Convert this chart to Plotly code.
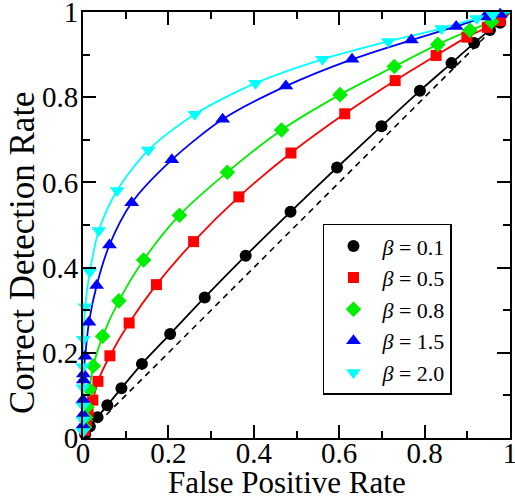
import plotly.graph_objects as go

# ---- data ----
labels = ["0.1", "0.5", "0.8", "1.5", "2.0"]
colors = ["#000000", "#ff0000", "#00ee00", "#0000ff", "#00ffff"]
symbols = ["circle", "square", "diamond", "triangle-up", "triangle-down"]
msizes = [12, 11, 12, 13, 13]

fpr_b01 = [0.0, 0.005, 0.016, 0.034, 0.057, 0.090, 0.138, 0.204, 0.285, 0.381, 0.486, 0.595, 0.699, 0.789, 0.863, 0.916, 0.953, 0.977, 1.0]
tpr_b01 = [0.0, 0.009, 0.027, 0.049, 0.077, 0.117, 0.174, 0.244, 0.330, 0.428, 0.531, 0.635, 0.732, 0.815, 0.880, 0.927, 0.958, 0.975, 1.0]

fpr_b05 = [0.0, 0.004, 0.008, 0.012, 0.023, 0.035, 0.063, 0.108, 0.172, 0.259, 0.365, 0.487, 0.613, 0.731, 0.827, 0.899, 0.947, 0.977, 1.0]
tpr_b05 = [0.0, 0.018, 0.036, 0.058, 0.089, 0.133, 0.193, 0.270, 0.360, 0.461, 0.566, 0.669, 0.761, 0.839, 0.898, 0.941, 0.964, 0.980, 1.0]

fpr_b08 = [0.0, 0.003, 0.006, 0.009, 0.015, 0.024, 0.046, 0.084, 0.142, 0.226, 0.338, 0.465, 0.602, 0.729, 0.831, 0.906, 0.957, 1.0]
tpr_b08 = [0.0, 0.025, 0.048, 0.073, 0.114, 0.169, 0.239, 0.322, 0.418, 0.523, 0.624, 0.723, 0.806, 0.872, 0.924, 0.957, 0.977, 1.0]

fpr_b15 = [0.0, 0.0, 0.0, 0.0, 0.001, 0.001, 0.005, 0.014, 0.032, 0.062, 0.114, 0.208, 0.327, 0.475, 0.630, 0.769, 0.874, 0.941, 0.977, 1.0]
tpr_b15 = [0.0, 0.030, 0.055, 0.090, 0.136, 0.150, 0.192, 0.272, 0.358, 0.453, 0.552, 0.653, 0.748, 0.826, 0.889, 0.934, 0.966, 0.988, 0.995, 1.0]

fpr_b20 = [0.0, 0.0, 0.0, 0.0, 0.0, 0.0, 0.001, 0.005, 0.016, 0.037, 0.080, 0.153, 0.262, 0.404, 0.561, 0.715, 0.840, 0.922, 0.960, 1.0]
tpr_b20 = [0.0, 0.015, 0.042, 0.075, 0.118, 0.167, 0.232, 0.308, 0.390, 0.487, 0.581, 0.676, 0.760, 0.833, 0.889, 0.931, 0.961, 0.985, 0.993, 1.0]

diag_x = [0.0, 1.0]
diag_y = [0.0, 1.0]

x_ticks = [0, 0.2, 0.4, 0.6, 0.8, 1]
x_ticklabels = ["0", "0.2", "0.4", "0.6", "0.8", "1"]
y_ticks = [0, 0.2, 0.4, 0.6, 0.8, 1]
y_ticklabels = ["0", "0.2", "0.4", "0.6", "0.8", "1"]

x_title = "False Positive Rate"
y_title = "Correct Detection Rate"

series = [(fpr_b01, tpr_b01), (fpr_b05, tpr_b05), (fpr_b08, tpr_b08),
          (fpr_b15, tpr_b15), (fpr_b20, tpr_b20)]

FONT = "Times New Roman, Liberation Serif, serif"

fig = go.Figure()

fig.add_trace(go.Scatter(x=diag_x, y=diag_y, mode="lines",
                         line=dict(color="black", width=1.6, dash="6px,5px"),
                         showlegend=False, hoverinfo="skip"))

for (xs, ys), c in zip(series, colors):
    fig.add_trace(go.Scatter(x=xs, y=ys, mode="lines",
                             line=dict(color=c, width=1.8, shape="spline", smoothing=0.8),
                             showlegend=False, cliponaxis=False))

for (xs, ys), c, s, ms, lab in zip(series, colors, symbols, msizes, labels):
    fig.add_trace(go.Scatter(x=xs[1:-1], y=ys[1:-1], mode="markers",
                             marker=dict(color=c, symbol=s, size=ms, line=dict(width=0)),
                             name="<i>β</i> = " + lab, cliponaxis=False))

axis_common = dict(
    range=[0, 1], showgrid=False, zeroline=False,
    showline=True, linecolor="black", linewidth=2, mirror="ticks",
    ticks="inside", ticklen=13, tickwidth=1.5, tickcolor="black",
    tickfont=dict(family=FONT, size=29, color="black"),
    ticklabeloverflow="allow",
    minor=dict(ticks="inside", ticklen=7, tickwidth=1.5, tickcolor="black", dtick=0.1),
)

fig.update_xaxes(**axis_common, tickvals=x_ticks, ticktext=x_ticklabels,
                 ticklabelstandoff=-12)
fig.update_yaxes(**axis_common, tickvals=y_ticks, ticktext=y_ticklabels,
                 ticklabelstandoff=-3)

fig.add_annotation(text=x_title, xref="paper", yref="paper",
                   x=0.4778, y=-0.104, xanchor="center", yanchor="middle",
                   showarrow=False, font=dict(family=FONT, size=31, color="black"))
fig.add_annotation(text=y_title, xref="paper", yref="paper",
                   x=-0.1429, y=0.4366, xanchor="center", yanchor="middle",
                   textangle=-90, showarrow=False,
                   font=dict(family=FONT, size=35, color="black"))

fig.update_layout(
    width=515, height=500,
    margin=dict(l=83, r=5, t=12, b=62, autoexpand=False),
    paper_bgcolor="white", plot_bgcolor="white",
    font=dict(family=FONT, color="black"),
    legend=dict(x=0.562, y=0.503, xanchor="left", yanchor="top",
                bgcolor="white", bordercolor="black", borderwidth=1.5,
                font=dict(family=FONT, size=22, color="black"),
                tracegroupgap=0, itemwidth=48, itemsizing="trace"),
)

fig.write_html("out.html")
